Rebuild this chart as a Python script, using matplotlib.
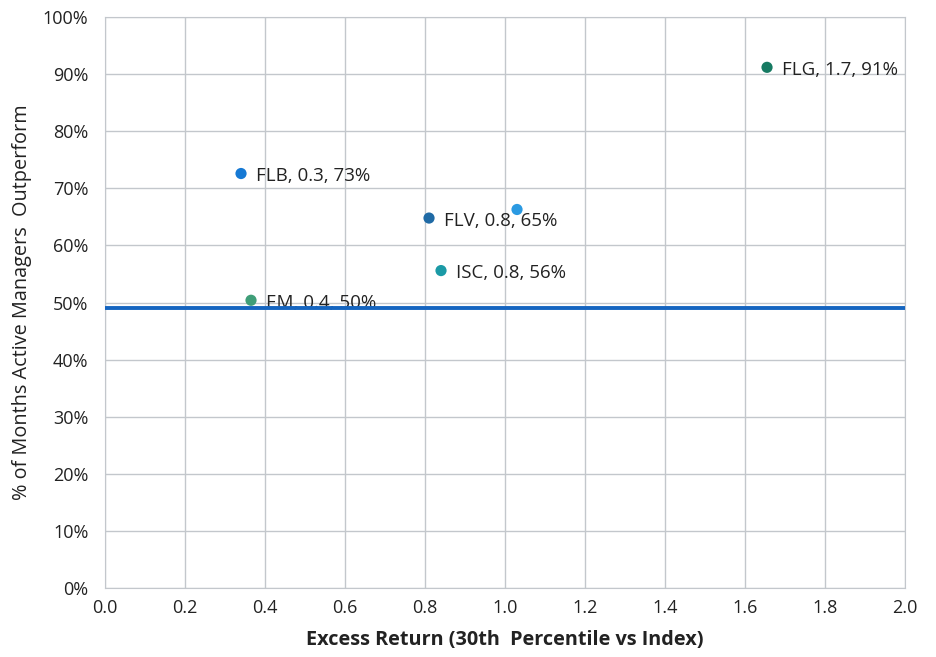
import matplotlib.pyplot as plt
from matplotlib.ticker import PercentFormatter

plt.rcParams['font.family'] = ['Open Sans', 'DejaVu Sans']

# excess return (x) vs share of months active managers outperform (y)
names = ['FLB', 'FLV', '', 'ISC', 'EM', 'FLG']
excess_ret = [0.34, 0.81, 1.03, 0.84, 0.365, 1.655]
pct_outperf = [0.726, 0.648, 0.663, 0.556, 0.504, 0.912]
colors = ['#1679d4', '#1f6aa5', '#2b9ae2', '#1b9aa6', '#3f9e78', '#167a62']
baseline = 0.49

fig = plt.figure(figsize=(9.36, 6.57), dpi=100)
ax = fig.add_axes([0.1122, 0.105, 0.8547, 0.869])

ax.scatter(excess_ret, pct_outperf, s=65, c=colors, zorder=3, linewidths=0)
for n, x, y in zip(names, excess_ret, pct_outperf):
    if not n:
        continue
    ax.annotate(f'{n}, {x:.1f}, {y*100:.0f}%', (x, y), xytext=(11, -2),
                textcoords='offset points', va='center', ha='left',
                fontsize=13.5, color='#222222', zorder=3)

ax.axhline(baseline, color='#1565c0', lw=2.8, zorder=5)

ax.set_xlim(0, 2.0)
ax.set_ylim(0, 1.0)
ax.set_xticks([i / 10 for i in range(0, 21, 2)])
ax.set_yticks([i / 10 for i in range(0, 11)])
ax.xaxis.set_major_formatter(lambda v, p: f'{v:.1f}')
ax.yaxis.set_major_formatter(PercentFormatter(1.0, decimals=0))
ax.tick_params(length=0, labelsize=13, colors='#222222')
ax.tick_params(axis='y', pad=12)
ax.tick_params(axis='x', pad=8)

ax.grid(True, color='#c3c7cc', lw=1)
ax.set_axisbelow(True)
for sp in ax.spines.values():
    sp.set_color('#c3c7cc')

ax.set_xlabel('Excess Return (30th  Percentile vs Index)', fontsize=14.3,
              fontweight='bold', color='#222222', labelpad=9)
ax.set_ylabel('% of Months Active Managers  Outperform', fontsize=14.3,
              color='#222222', labelpad=8)

fig.savefig('out.png', dpi=100)
